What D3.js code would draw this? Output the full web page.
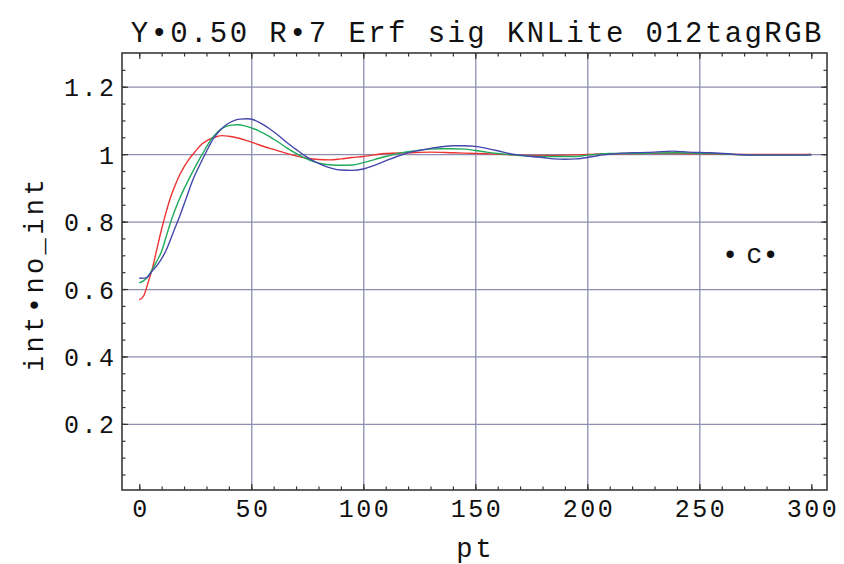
<!DOCTYPE html>
<html>
<head>
<meta charset="utf-8">
<script src="https://cdn.jsdelivr.net/npm/d3@7"></script>
<style>
  html, body { margin: 0; padding: 0; background: #ffffff; }
  svg { display: block; }
  text { font-family: "Liberation Mono", "DejaVu Sans Mono", monospace; fill: #111; }
</style>
</head>
<body>
<svg id="chart" width="844" height="564"></svg>
<script>
// Series: interaction / no-interaction ratio versus pt, three tag selections
const redPt  = [0, 2, 4, 6, 8, 10, 12, 14, 16, 18, 20, 22, 25, 28, 31, 34, 37, 40, 44, 48, 52, 56, 60, 65, 70, 75, 80, 85, 90, 95, 100, 105, 110, 120, 130, 140, 150, 160, 170, 180, 190, 200, 210, 220, 230, 240, 250, 260, 270, 280, 290, 300];
const redVal = [0.568, 0.58, 0.62, 0.665, 0.722, 0.778, 0.828, 0.872, 0.907, 0.938, 0.962, 0.983, 1.008, 1.03, 1.043, 1.051, 1.055, 1.053, 1.048, 1.04, 1.031, 1.022, 1.014, 1.004, 0.995, 0.988, 0.984, 0.983, 0.986, 0.99, 0.993, 0.998, 1.002, 1.004, 1.006, 1.004, 1.002, 1.0, 0.997, 0.996, 0.997, 0.999, 1.001, 1.001, 1.002, 1.002, 1.001, 1.0, 0.999, 0.999, 0.999, 1.0];

const greenPt  = [0, 2, 4, 6, 8, 10, 12, 14, 16, 18, 20, 23, 26, 29, 32, 35, 38, 41, 44, 47, 50, 54, 58, 62, 66, 70, 74, 78, 82, 86, 90, 95, 100, 105, 110, 115, 120, 125, 130, 135, 140, 145, 150, 155, 160, 165, 170, 180, 190, 195, 200, 205, 210, 220, 230, 240, 250, 260, 270, 280, 290, 300];
const greenVal = [0.618, 0.625, 0.638, 0.66, 0.685, 0.712, 0.755, 0.798, 0.835, 0.868, 0.897, 0.937, 0.975, 1.01, 1.043, 1.066, 1.08, 1.086, 1.087, 1.084, 1.078, 1.067, 1.053, 1.036, 1.018, 1.002, 0.988, 0.977, 0.971, 0.968, 0.967, 0.968, 0.975, 0.984, 0.993, 1.001, 1.007, 1.012, 1.015, 1.016, 1.016, 1.015, 1.011, 1.006, 1.002, 0.999, 0.996, 0.993, 0.993, 0.993, 0.997, 1.0, 1.002, 1.002, 1.003, 1.004, 1.002, 1.001, 0.998, 0.997, 0.997, 0.998];

const bluePt  = [0, 3, 6, 9, 12, 15, 18, 21, 24, 27, 30, 33, 36, 39, 42, 45, 48, 51, 54, 58, 62, 66, 70, 74, 78, 82, 86, 90, 95, 100, 105, 110, 115, 120, 125, 130, 135, 140, 145, 150, 155, 160, 165, 170, 175, 180, 185, 190, 195, 200, 205, 210, 215, 220, 230, 238, 245, 255, 265, 275, 285, 295, 300];
const blueVal = [0.632, 0.633, 0.655, 0.68, 0.715, 0.765, 0.815, 0.87, 0.925, 0.968, 1.008, 1.045, 1.07, 1.088, 1.099, 1.104, 1.105, 1.102, 1.093, 1.076, 1.056, 1.034, 1.014, 0.995, 0.979, 0.967, 0.958, 0.953, 0.952, 0.956, 0.967, 0.98, 0.993, 1.004, 1.011, 1.017, 1.022, 1.025, 1.025, 1.023, 1.017, 1.01, 1.002, 0.997, 0.993, 0.99, 0.986, 0.985, 0.986, 0.99, 0.996, 1.0, 1.003, 1.004, 1.006, 1.009, 1.006, 1.004, 1.0, 0.997, 0.997, 0.997, 0.998];

const xMajorTicks = [0, 50, 100, 150, 200, 250, 300];
const xMinorTicks = d3.range(0, 301, 10);
const xGridTicks  = [50, 100, 150, 200, 250];
const yMajorTicks = [0.2, 0.4, 0.6, 0.8, 1.0, 1.2];
const yTickLabels = ["0.2", "0.4", "0.6", "0.8", "1", "1.2"];
const yMinorTicks = d3.range(1, 26).map(i => +(i * 0.05).toFixed(2));

const titleText = "Y\u20220.50 R\u20227 Erf sig KNLite 012tagRGB";
const xLabel = "pt";
const yLabel = "int\u2022no_int";
const seriesColors = ["#ee3333", "#1faa5c", "#4646ac"];

// Plot frame
const frame = { left: 122, top: 53, right: 827, bottom: 490 };
const W = frame.right - frame.left, H = frame.bottom - frame.top;

const x = d3.scaleLinear().domain([-7.7, 307]).range([0, W]);
const y = d3.scaleLinear().domain([0.004, 1.3]).range([H, 0]);

const svg = d3.select("#chart");
svg.append("rect").attr("width", 844).attr("height", 564).attr("fill", "#fff");

const g = svg.append("g").attr("transform", `translate(${frame.left},${frame.top})`);

// Grid lines
const gridColor = "#8e8eb2";
g.append("g")
  .attr("transform", `translate(0,${H})`)
  .call(d3.axisBottom(x).tickValues(xGridTicks).tickSize(-H).tickFormat(""))
  .call(s => s.select(".domain").remove())
  .selectAll("line").attr("stroke", gridColor).attr("stroke-width", 1.3);
g.append("g")
  .call(d3.axisLeft(y).tickValues(yMajorTicks).tickSize(-W).tickFormat(""))
  .call(s => s.select(".domain").remove())
  .selectAll("line").attr("stroke", gridColor).attr("stroke-width", 1.3);

// Curves
const line = d3.line()
  .x(d => x(d[0]))
  .y(d => y(d[1]))
  .curve(d3.curveMonotoneX);

const series = [
  d3.zip(redPt, redVal),
  d3.zip(greenPt, greenVal),
  d3.zip(bluePt, blueVal)
];
series.forEach((pts, i) => {
  g.append("path")
    .datum(pts)
    .attr("fill", "none")
    .attr("stroke", seriesColors[i])
    .attr("stroke-width", 1.4)
    .attr("d", line);
});

// Frame ticks on all four sides (pointing inward)
const tickColor = "#333";
function tickAxis(axisFn, scale, values, size, transform) {
  const a = g.append("g")
    .attr("transform", transform || null)
    .call(axisFn(scale).tickValues(values).tickSize(size).tickFormat(""));
  a.select(".domain").remove();
  a.selectAll("line").attr("stroke", tickColor).attr("stroke-width", 1.2);
  return a;
}
tickAxis(d3.axisBottom, x, xMinorTicks, -3.5, `translate(0,${H})`);
tickAxis(d3.axisBottom, x, xMajorTicks, -6, `translate(0,${H})`);
tickAxis(d3.axisTop, x, xMinorTicks, -3.5);
tickAxis(d3.axisTop, x, xMajorTicks, -6);
tickAxis(d3.axisLeft, y, yMinorTicks, -3.5);
tickAxis(d3.axisLeft, y, yMajorTicks, -6);
tickAxis(d3.axisRight, y, yMinorTicks, -3.5, `translate(${W},0)`);
tickAxis(d3.axisRight, y, yMajorTicks, -6, `translate(${W},0)`);

// Frame border
g.append("rect")
  .attr("width", W).attr("height", H)
  .attr("fill", "none")
  .attr("stroke", "#3a3a3a")
  .attr("stroke-width", 1.6);

// Tick labels
const tickFont = 25, tickLS = 2.5;
const xLab = g.append("g")
  .attr("transform", `translate(0,${H})`)
  .call(d3.axisBottom(x).tickValues(xMajorTicks).tickSize(0).tickPadding(0).tickFormat(d3.format("d")));
xLab.select(".domain").remove();
xLab.selectAll("text")
  .attr("y", 27).attr("dy", null)
  .attr("dx", tickLS / 2)
  .attr("font-family", null)
  .attr("font-size", tickFont)
  .style("letter-spacing", tickLS + "px")
  .attr("fill", "#111");

const yLab = g.append("g")
  .call(d3.axisLeft(y).tickValues(yMajorTicks).tickSize(0).tickPadding(0)
    .tickFormat((d, i) => yTickLabels[i]));
yLab.select(".domain").remove();
yLab.selectAll("text")
  .attr("x", -8 + tickLS).attr("dy", "0.36em")
  .attr("font-family", null)
  .attr("font-size", tickFont)
  .style("letter-spacing", tickLS + "px")
  .attr("fill", "#111");

// Title
svg.append("text")
  .attr("x", 476 + 1.2).attr("y", 42)
  .attr("text-anchor", "middle")
  .attr("font-size", 29)
  .style("letter-spacing", "2.4px")
  .text(titleText);

// Axis labels
svg.append("text")
  .attr("x", 474 + 1.5).attr("y", 557)
  .attr("text-anchor", "middle")
  .attr("font-size", 27)
  .style("letter-spacing", "3px")
  .text(xLabel);

svg.append("text")
  .attr("transform", "translate(43,274) rotate(-90)")
  .attr("text-anchor", "middle")
  .attr("font-size", 27)
  .style("letter-spacing", "3.4px")
  .text(yLabel);

// Annotation inside the plot
const note = svg.append("text")
  .attr("x", 722).attr("y", 263)
  .attr("font-size", 27);
note.append("tspan").text("\u2022");
note.append("tspan").attr("dx", 8).text("c");
note.append("tspan").attr("dx", 0).text("\u2022");
</script>
</body>
</html>
